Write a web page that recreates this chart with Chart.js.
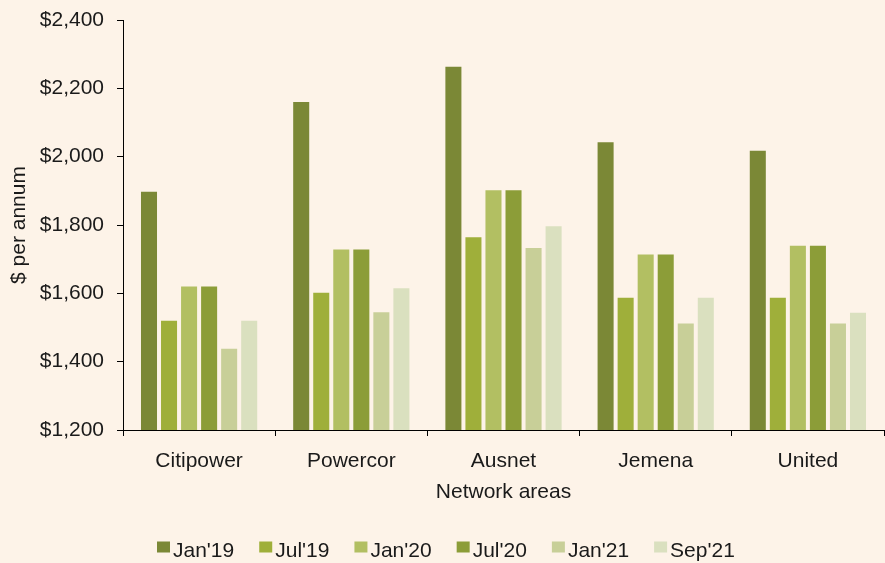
<!DOCTYPE html>
<html>
<head>
<meta charset="utf-8">
<script src="https://cdn.jsdelivr.net/npm/chart.js@4"></script>
<style>
  html, body { margin: 0; padding: 0; background: #fdf3e8; }
  #wrap { width: 885px; height: 563px; position: relative; }
</style>
</head>
<body>
<div id="wrap"><canvas id="c" width="885" height="563"></canvas></div>
<script>
const categories = ['Citipower', 'Powercor', 'Ausnet', 'Jemena', 'United'];
const seriesLabels = ["Jan'19", "Jul'19", "Jan'20", "Jul'20", "Jan'21", "Sep'21"];
const jan19 = [1897, 2160, 2263, 2042, 2017];
const jul19 = [1520, 1602, 1764, 1587, 1587];
const jan20 = [1620, 1728, 1902, 1714, 1739];
const jul20 = [1620, 1728, 1902, 1714, 1739];
const jan21 = [1438, 1545, 1733, 1512, 1512];
const sep21 = [1520, 1615, 1796, 1587, 1543];
const yTicks = [1200, 1400, 1600, 1800, 2000, 2200, 2400];
const colors = ['#7b8836', '#9faf3a', '#b2bf62', '#8c9d38', '#c8cf98', '#dae0bf'];

const seriesValues = [jan19, jul19, jan20, jul20, jan21, sep21];
const BG = '#fdf3e8';
const FONT = "'Liberation Sans', Arial, Helvetica, sans-serif";

const bgPlugin = {
  id: 'bg',
  beforeDraw(chart) {
    const ctx = chart.ctx;
    ctx.save();
    ctx.fillStyle = BG;
    ctx.fillRect(0, 0, chart.width, chart.height);
    ctx.restore();
  }
};

const legendPlugin = {
  id: 'customLegend',
  afterDraw(chart) {
    const ctx = chart.ctx;
    ctx.save();
    ctx.font = '21px ' + FONT;
    ctx.textBaseline = 'alphabetic';
    ctx.textAlign = 'left';
    let x = 157;
    chart.data.datasets.forEach(ds => {
      ctx.fillStyle = ds.backgroundColor;
      ctx.fillRect(x, 541.5, 13, 11);
      ctx.fillStyle = '#1a1a1a';
      ctx.fillText(ds.label, x + 16, 556.7);
      x += 16 + ctx.measureText(ds.label).width + 25;
    });
    ctx.restore();
  }
};

new Chart(document.getElementById('c'), {
  type: 'bar',
  data: {
    labels: categories,
    datasets: seriesLabels.map((lab, i) => ({
      label: lab,
      data: seriesValues[i],
      backgroundColor: colors[i],
      borderWidth: 0,
      categoryPercentage: 0.79,
      barPercentage: 0.8
    }))
  },
  options: {
    responsive: false,
    animation: false,
    layout: { padding: { top: 20, right: 1, bottom: 58, left: 0 } },
    plugins: {
      legend: { display: false },
      tooltip: { enabled: false }
    },
    scales: {
      x: {
        afterFit(scale) { scale.height = 75; },
        grid: {
          offset: true,
          drawOnChartArea: false,
          drawTicks: true,
          tickLength: 6,
          color: '#000',
          lineWidth: 1
        },
        border: { display: true, color: '#000', width: 1 },
        ticks: {
          color: '#1a1a1a',
          font: { family: FONT, size: 21 },
          padding: 13,
          maxRotation: 0
        },
        title: {
          display: true,
          text: 'Network areas',
          color: '#1a1a1a',
          font: { family: FONT, size: 21 },
          padding: { top: 0, bottom: 0 }
        }
      },
      y: {
        min: 1200,
        max: 2400,
        afterFit(scale) { scale.width = 123; scale.paddingTop = 0; },
        afterBuildTicks(scale) { scale.ticks = yTicks.map(v => ({ value: v })); },
        grid: {
          drawOnChartArea: false,
          drawTicks: true,
          tickLength: 6,
          color: '#000',
          lineWidth: 1
        },
        border: { display: true, color: '#000', width: 1 },
        ticks: {
          color: '#1a1a1a',
          font: { family: FONT, size: 21 },
          padding: 13,
          callback: v => '$' + String(v).replace(/\B(?=(\d{3})+(?!\d))/g, ',')
        },
        title: {
          display: true,
          text: '$ per annum',
          color: '#1a1a1a',
          font: { family: FONT, size: 21 },
          padding: { top: 7, bottom: 0 }
        }
      }
    }
  },
  plugins: [bgPlugin, legendPlugin]
});
</script>
</body>
</html>
